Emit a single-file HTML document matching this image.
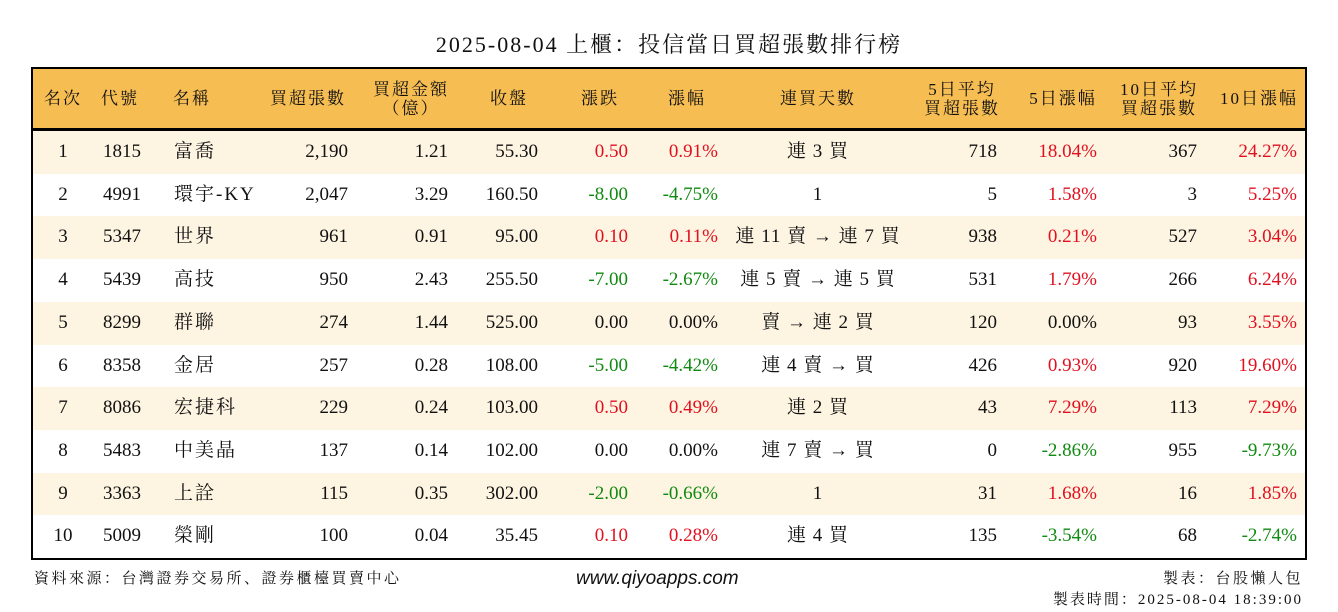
<!DOCTYPE html>
<html><head><meta charset="utf-8">
<style>
body{margin:0;width:1338px;height:612px;background:#fff;position:relative;overflow:hidden;font-family:"Liberation Serif","Noto Serif CJK SC",serif;color:#111}
.a{position:absolute;white-space:nowrap}
#title{left:0;width:1338px;text-align:center;top:28px;font-size:22px;letter-spacing:2px}
#tbl{position:absolute;left:31px;top:67px;width:1272px;height:489px;border:2px solid #000;overflow:hidden}
.hdr{position:absolute;left:0;top:0;width:1272px;height:59px;background:#f6bd52;border-bottom:3px solid #000}
.row{position:absolute;left:0;width:1272px;height:43px}
.c{position:absolute;font-size:19px;line-height:20px;white-space:nowrap}
.h{position:absolute;font-size:17px;line-height:19px;letter-spacing:2px;white-space:nowrap}
.r{color:#e0101f}.g{color:#118a11}
.foot{font-size:15px;letter-spacing:2.5px}
</style></head><body>
<div class="a" id="title">2025-08-04 上櫃：投信當日買超張數排行榜</div>
<div id="tbl"></div>
<div class="a foot" style="left:34px;top:567px">資料來源：台灣證券交易所、證券櫃檯買賣中心</div>
<div class="a" style="left:576px;top:568px;font-family:'Liberation Sans',sans-serif;font-style:italic;font-size:19px">www.qiyoapps.com</div>
<div class="a foot" style="right:35px;top:567px">製表：台股懶人包</div>
<div class="a foot" style="right:35px;top:588px;letter-spacing:2px">製表時間：2025-08-04 18:39:00</div>
<script>
const ranks=["1","2","3","4","5","6","7","8","9","10"];
const codes=["1815","4991","5347","5439","8299","8358","8086","5483","3363","5009"];
const names=["富喬","環宇-KY","世界","高技","群聯","金居","宏捷科","中美晶","上詮","榮剛"];
const buyLots=["2,190","2,047","961","950","274","257","229","137","115","100"];
const buyAmt=["1.21","3.29","0.91","2.43","1.44","0.28","0.24","0.14","0.35","0.04"];
const closes=["55.30","160.50","95.00","255.50","525.00","108.00","103.00","102.00","302.00","35.45"];
const changes=["0.50","-8.00","0.10","-7.00","0.00","-5.00","0.50","0.00","-2.00","0.10"];
const pcts=["0.91%","-4.75%","0.11%","-2.67%","0.00%","-4.42%","0.49%","0.00%","-0.66%","0.28%"];
const streaks=["連 3 買","1","連 11 賣 → 連 7 買","連 5 賣 → 連 5 買","賣 → 連 2 買","連 4 賣 → 買","連 2 買","連 7 賣 → 買","1","連 4 買"];
const avg5=["718","5","938","531","120","426","43","0","31","135"];
const pct5=["18.04%","1.58%","0.21%","1.79%","0.00%","0.93%","7.29%","-2.86%","1.68%","-3.54%"];
const avg10=["367","3","527","266","93","920","113","955","16","68"];
const pct10=["24.27%","5.25%","3.04%","6.24%","3.55%","19.60%","7.29%","-9.73%","1.85%","-2.74%"];
const headers=["名次","代號","名稱","買超張數","買超金額\n（億）","收盤","漲跌","漲幅","連買天數","5日平均\n買超張數","5日漲幅","10日平均\n買超張數","10日漲幅"];
const cols=[[30,'c'],[70,'l'],[141,'l'],[315,'r'],[415,'r'],[505,'r'],[595,'r'],[685,'r'],[785,'c'],[964,'r'],[1064,'r'],[1164,'r'],[1264,'r']];
const hcols=[[30,'c'],[87,'c'],[159,'c'],[275,'c'],[378,'c'],[476,'c'],[567,'c'],[654,'c'],[785,'c'],[929,'c'],[1030,'c'],[1126,'c'],[1226,'c']];
const tbl=document.getElementById('tbl');
function place(el,x,al){el.style.left=x+'px';if(al==='c')el.style.transform='translateX(-50%)';else if(al==='r')el.style.transform='translateX(-100%)';}
function cls(v){const n=parseFloat(v);return n>0?'r':n<0?'g':'';}
const hdr=document.createElement('div');hdr.className='hdr';


tbl.appendChild(hdr);
headers.forEach((t,i)=>{const d=document.createElement('div');d.className='h';


const two=t.includes('\n');d.innerHTML=t.split('\n').join('<br>');d.style.textAlign='center';
d.style.top=(two?11:20)+'px';place(d,hcols[i][0],'c');hdr.appendChild(d);});
ranks.forEach((rk,i)=>{const row=document.createElement('div');row.className='row';


row.style.top=(62+i*42.7)+'px';row.style.background=i%2===0?'#fdf4e1':'#fff';tbl.appendChild(row);
const vals=[rk,codes[i],names[i],buyLots[i],buyAmt[i],closes[i],changes[i],pcts[i],streaks[i],avg5[i],pct5[i],avg10[i],pct10[i]];
vals.forEach((v,j)=>{const d=document.createElement('div');d.className='c';


d.textContent=v;d.style.top='11px';
if([6,7,10,12].includes(j)){const k=cls(v);if(k)d.classList.add(k);}
if(j===2)d.style.letterSpacing='2px';
if(j===8)d.style.letterSpacing='1px';
place(d,cols[j][0],cols[j][1]);row.appendChild(d);});});
</script>
</body></html>
